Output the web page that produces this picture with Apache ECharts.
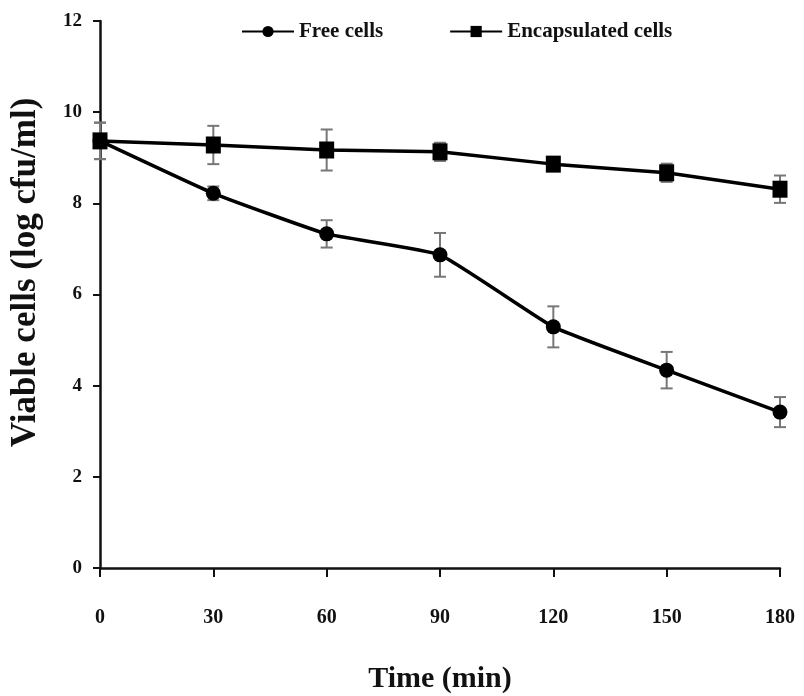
<!DOCTYPE html>
<html>
<head>
<meta charset="utf-8">
<script src="https://cdn.jsdelivr.net/npm/echarts@6/dist/echarts.min.js"></script>
<style>
  html, body { margin: 0; padding: 0; background: #fff; }
  #chart { width: 804px; height: 696px; }
</style>
</head>
<body>
<div id="chart"></div>
<script>
const timePoints = [0, 30, 60, 90, 120, 150, 180]
const freeCells = [9.37, 8.22, 7.33, 6.87, 5.29, 4.34, 3.42]
const freeErr = [0.4, 0.15, 0.3, 0.48, 0.45, 0.4, 0.33]
const encapCells = [9.37, 9.28, 9.17, 9.13, 8.86, 8.67, 8.31]
const encapErr = [0.4, 0.42, 0.45, 0.2, 0.15, 0.2, 0.3]

const font = '"Liberation Serif", "Times New Roman", serif'

const pairs = (ys) => timePoints.map((t, i) => [t, ys[i]])

// error bars drawn with the axis scales
const errorSeries = (ys, errs) => ({
  type: 'custom',
  silent: true,
  z: 1,
  data: timePoints.map((t, i) => [t, ys[i] - errs[i], ys[i] + errs[i]]),
  renderItem: (params, api) => {
    const lo = api.coord([api.value(0), api.value(1)])
    const hi = api.coord([api.value(0), api.value(2)])
    const w = 6
    const style = { stroke: '#777', lineWidth: 2 }
    return {
      type: 'group',
      children: [
        { type: 'line', shape: { x1: lo[0], y1: lo[1], x2: hi[0], y2: hi[1] }, style },
        { type: 'line', shape: { x1: lo[0] - w, y1: lo[1], x2: lo[0] + w, y2: lo[1] }, style },
        { type: 'line', shape: { x1: hi[0] - w, y1: hi[1], x2: hi[0] + w, y2: hi[1] }, style }
      ]
    }
  }
})

const chart = echarts.init(document.getElementById('chart'))

chart.setOption({
  backgroundColor: '#fff',
  animation: false,
  textStyle: { fontFamily: font },
  legend: {
    top: 16,
    left: 236,
    itemGap: 66,
    itemWidth: 52,
    itemHeight: 14,
    textStyle: { fontFamily: font, fontWeight: 'bold', fontSize: 21, color: '#111' },
    data: ['Free cells', 'Encapsulated cells']
  },
  grid: { left: 100, right: 24, top: 21, bottom: 128, outerBoundsMode: 'none', containLabel: false },
  xAxis: {
    type: 'value',
    min: 0,
    max: 180,
    interval: 30,
    name: 'Time (min)',
    nameLocation: 'middle',
    nameGap: 96,
    nameTextStyle: { fontFamily: font, fontWeight: 'bold', fontSize: 30, color: '#111' },
    axisLine: { lineStyle: { color: '#111', width: 2.5 } },
    axisTick: { show: true, length: 9, lineStyle: { color: '#111', width: 2 } },
    axisLabel: { margin: 40, fontFamily: font, fontWeight: 'bold', fontSize: 20, color: '#111' },
    splitLine: { show: false }
  },
  yAxis: {
    type: 'value',
    min: 0,
    max: 12,
    interval: 2,
    name: 'Viable cells (log cfu/ml)',
    nameLocation: 'middle',
    nameGap: 57,
    nameTextStyle: { fontFamily: font, fontWeight: 'bold', fontSize: 35, color: '#111', padding: [0, 0, 0, 44] },
    axisLine: { show: true, lineStyle: { color: '#111', width: 2.5 } },
    axisTick: { show: true, length: 7, lineStyle: { color: '#111', width: 2 } },
    axisLabel: { margin: 18, fontFamily: font, fontWeight: 'bold', fontSize: 19, color: '#111' },
    splitLine: { show: false }
  },
  series: [
    errorSeries(freeCells, freeErr),
    errorSeries(encapCells, encapErr),
    {
      name: 'Free cells',
      type: 'line',
      z: 3,
      smooth: 0.12,
      symbol: 'circle',
      symbolSize: 15,
      itemStyle: { color: '#000' },
      lineStyle: { color: '#000', width: 3.5 },
      data: pairs(freeCells)
    },
    {
      name: 'Encapsulated cells',
      type: 'line',
      z: 3,
      symbol: 'rect',
      symbolSize: [15, 17],
      itemStyle: { color: '#000' },
      lineStyle: { color: '#000', width: 3.5 },
      data: pairs(encapCells)
    }
  ]
})
</script>
</body>
</html>
